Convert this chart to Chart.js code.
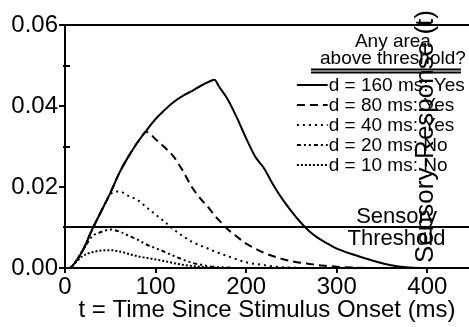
<!DOCTYPE html>
<html><head><meta charset="utf-8">
<script src="https://cdn.jsdelivr.net/npm/chart.js@4.4.0/dist/chart.umd.min.js"></script>
<style>html,body{margin:0;padding:0;background:#fff;}#wrap{width:469px;height:327px;}</style>
</head><body><div id="wrap"><canvas id="c" width="469" height="327"></canvas></div>
<script>
const times   = [0,5,10,20,30,40,50,60,70,80,90,100,110,120,130,140,150,160,165,170,180,190,200,210,220,230,240,250,260,270,280,290,300,320,340,360,380,400,440];
const resp160 = [0,0,0.001,0.0045,0.0095,0.014,0.0185,0.0235,0.0275,0.031,0.034,0.0368,0.039,0.041,0.0425,0.0437,0.045,0.0461,0.0465,0.0448,0.0415,0.037,0.032,0.0275,0.0245,0.0205,0.017,0.014,0.0113,0.009,0.0073,0.006,0.0048,0.0032,0.0018,0.0007,0.0001,0,0];
const resp80  = [0,0,0.001,0.0045,0.0095,0.014,0.0185,0.0235,0.0275,0.031,0.0336,0.0318,0.0298,0.0275,0.024,0.020,0.017,0.0145,0.013,0.0118,0.0095,0.0077,0.006,0.0048,0.0037,0.0029,0.0022,0.0017,0.0013,0.001,0.0007,0.0005,0.0003,0.0001,0,0,0,0,0];
const resp40  = [0,0,0.001,0.0045,0.0095,0.014,0.0182,0.0189,0.0178,0.0168,0.015,0.0132,0.0114,0.0095,0.0079,0.0065,0.0055,0.0046,0.0041,0.0037,0.0029,0.0021,0.0014,0.001,0.0007,0.0004,0.0002,0.0001,0,0,0,0,0,0,0,0,0,0,0];
const resp20  = [0,0,0.001,0.0045,0.0078,0.0089,0.0095,0.009,0.008,0.007,0.0058,0.0049,0.004,0.003,0.0021,0.0013,0.0008,0.0004,0.0003,0.0002,0.0001,0,0,0,0,0,0,0,0,0,0,0,0,0,0,0,0,0,0];
const resp10  = [0,0,0.001,0.003,0.0039,0.0043,0.0044,0.0041,0.0035,0.0029,0.0025,0.0021,0.0017,0.0012,0.0008,0.0005,0.0003,0.0001,0.0001,0,0,0,0,0,0,0,0,0,0,0,0,0,0,0,0,0,0,0,0];

const durations = [160,80,40,20,10];
const aboveThreshold = ['Yes','Yes','Yes','No','No'];
const seriesValues = [resp160,resp80,resp40,resp20,resp10];
const dashStyles = [[],[8,5],[2,4],[4,3,2,3,2,3],[2,2]];

const thresholdValue = 0.01;
const xTickValues = [0,100,200,300,400];
const xTickLabels = ['0','100','200','300','400'];
const yTickValues = [0,0.02,0.04,0.06];
const yTickLabels = ['0.00','0.02','0.04','0.06'];
const yMinorValues = [0.01,0.03,0.05];
const xMin = 0, xMax = 446, yMin = 0, yMax = 0.06;

const FONT = '"Liberation Sans", Arial, Helvetica, sans-serif';

const datasets = seriesValues.map((vals,i)=>({
  label: 'd = '+durations[i]+' ms',
  data: times.map((t,j)=>({x:t,y:vals[j]})),
  borderColor:'#000', borderWidth:2, borderDash:dashStyles[i],
  pointRadius:0, fill:false, cubicInterpolationMode:'monotone'
}));

const decor = {
  id:'decor',
  afterDatasetsDraw(chart){
    const {ctx, chartArea:a, scales:{x,y}} = chart;
    ctx.save();
    ctx.strokeStyle='#000'; ctx.fillStyle='#000'; ctx.lineWidth=2; ctx.setLineDash([]);
    const hl=(x1,y1,x2,y2)=>{ctx.beginPath();ctx.moveTo(x1,y1);ctx.lineTo(x2,y2);ctx.stroke();};
    const yt = Math.round(y.getPixelForValue(yMax));
    hl(a.left, yt, a.right, yt);
    const yth = Math.round(y.getPixelForValue(thresholdValue));
    hl(a.left, yth, a.right, yth);
    yMinorValues.forEach(v=>{const p=Math.round(y.getPixelForValue(v)); hl(a.left-2,p,a.left+5,p);});
    // threshold annotation
    ctx.font='22px '+FONT; ctx.textAlign='center'; ctx.textBaseline='middle';
    const ax = x.getPixelForValue(366);
    ctx.fillText('Sensory', ax, yth-10);
    ctx.fillText('Threshold', ax, yth+12);
    // legend
    ctx.font='19px '+FONT;
    const cx = x.getPixelForValue(362);
    ctx.fillText('Any area', cx, yt+17);
    ctx.fillText('above threshold?', cx, yt+34);
    ctx.lineWidth=2;
    hl(cx-82, yt+44.5, a.right-8, yt+44.5);
    hl(cx-82, yt+47.5, a.right-8, yt+47.5);
    ctx.textAlign='left';
    const lx0 = x.getPixelForValue(256), lx1 = x.getPixelForValue(290);
    durations.forEach((d,i)=>{
      const ly = yt + 60 + i*20;
      ctx.setLineDash(dashStyles[i]);
      hl(lx0, ly, lx1, ly);
      ctx.setLineDash([]);
      ctx.fillText('d = '+d+' ms: '+aboveThreshold[i], lx1+1, ly+1);
    });
    // right-side axis title
    ctx.font='26px '+FONT;
    ctx.translate(x.getPixelForValue(406), (a.top+a.bottom)/2 - 10);
    ctx.rotate(-Math.PI/2);
    ctx.textAlign='center'; ctx.textBaseline='alphabetic';
    ctx.fillText('Sensory-Response (t)', 0, 0);
    ctx.restore();
  }
};

new Chart(document.getElementById('c'), {
  type:'line',
  data:{datasets},
  options:{
    responsive:false, animation:false, devicePixelRatio:1,
    layout:{padding:{top:25,right:0,left:0,bottom:0}},
    plugins:{legend:{display:false}, tooltip:{enabled:false}},
    scales:{
      x:{type:'linear', min:xMin, max:xMax,
        afterFit(s){s.height=59;},
        afterBuildTicks(s){s.ticks = xTickValues.map(v=>({value:v}));},
        ticks:{callback:(v,i)=>xTickLabels[i], color:'#000', font:{family:FONT,size:24}, padding:0, maxRotation:0, autoSkip:false},
        grid:{drawOnChartArea:false, drawTicks:true, tickLength:5, color:'#000', lineWidth:2},
        border:{display:true, color:'#000', width:2},
        title:{display:true, text:'t = Time Since Stimulus Onset (ms)', color:'#000', font:{family:FONT,size:24}, padding:{top:0,bottom:2}}
      },
      y:{type:'linear', min:yMin, max:yMax,
        afterFit(s){s.width=65;},
        afterBuildTicks(s){s.ticks = yTickValues.map(v=>({value:v}));},
        ticks:{callback:(v,i)=>yTickLabels[i], color:'#000', font:{family:FONT,size:24}, padding:1},
        grid:{drawOnChartArea:false, drawTicks:true, tickLength:6, color:'#000', lineWidth:2},
        border:{display:true, color:'#000', width:2}
      }
    }
  },
  plugins:[decor]
});
</script></body></html>
